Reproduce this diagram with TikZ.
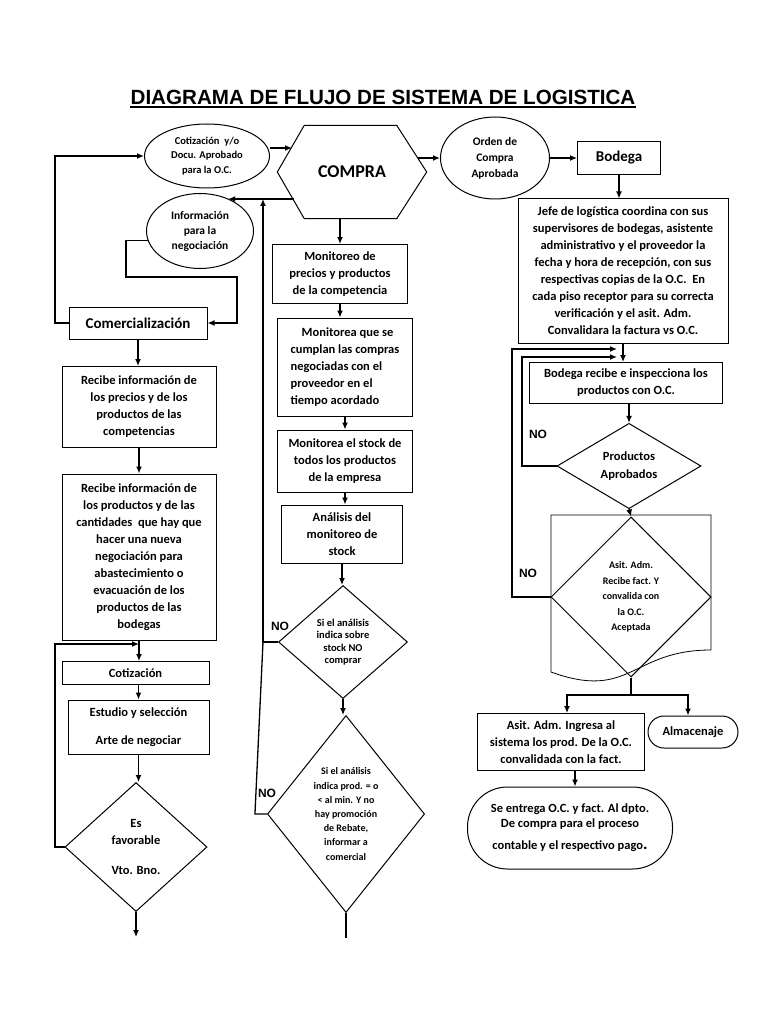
\documentclass[tikz,border=0pt]{standalone}
\usepackage{fontspec}
\setmainfont{Carlito}
\newfontfamily\arialfont{Liberation Sans}
\usetikzlibrary{shapes,arrows.meta,positioning}
\tikzset{
  box/.style = {draw, line width=1pt, rectangle, inner sep=0pt, align=center, font=\bfseries\fontsize{12.5}{17}\selectfont},
  ell/.style = {draw, line width=1pt, ellipse, inner sep=0pt, align=center},
  dec/.style = {draw, line width=1pt, diamond, inner sep=0pt, align=center, font=\bfseries\fontsize{12.5}{17}\selectfont},
  term/.style = {draw, line width=1pt, rectangle, inner sep=0pt, align=center, font=\bfseries\fontsize{12.5}{17}\selectfont},
  lbl/.style = {inner sep=0pt, font=\arialfont\bfseries\fontsize{12}{14}\selectfont},
  arrow/.style = {line width=1.3pt, -{Latex[length=7pt,width=6pt]}},
  link/.style = {line width=1.3pt}
}
\begin{document}
\begin{tikzpicture}[x=1pt, y=-1pt]
\useasboundingbox (0,0) rectangle (768,1024);
% title
\node[inner sep=0pt, font=\arialfont\bfseries\fontsize{20.6}{24}\selectfont] (title) at (383,97) {DIAGRAMA DE FLUJO DE SISTEMA DE LOGISTICA};
\draw[line width=1.5pt] ([yshift=-2.5pt]title.south west) -- ([yshift=-2.5pt]title.south east);

% left column
\node[ell, minimum width=125pt, minimum height=64pt, font=\bfseries\fontsize{10.5}{14.5}\selectfont] (cot) at (207,156) {Cotización~ y/o\\Docu. Aprobado\\para la O.C.};
\node[ell, minimum width=107pt, minimum height=75pt, font=\bfseries\fontsize{11.5}{15}\selectfont] (info) at (200,231) {Información\\para la\\negociación};
\node[box, minimum width=138pt, minimum height=32pt, font=\bfseries\fontsize{15}{17}\selectfont] (com) at (138,323) {Comercialización};
\node[box, minimum width=154pt, minimum height=81pt] (rec1) at (139,407) {Recibe información de\\los precios y de los\\productos de las\\competencias};
\node[box, minimum width=154pt, minimum height=166pt] (rec2) at (139,557) {Recibe información de\\los productos y de las\\cantidades~ que hay que\\hacer una nueva\\negociación para\\abastecimiento o\\evacuación de los\\productos de las\\bodegas};
\node[box, minimum width=147pt, minimum height=23pt] (cotz) at (135.5,673) {Cotización};
\node[box, minimum width=141pt, minimum height=54pt] (est) at (138.5,727) {Estudio y selección\\[11pt]Arte de negociar};
\node[dec, minimum width=142pt, minimum height=129pt] (fav) at (136,847) {Es\\favorable\\[13pt]Vto. Bno.};
\coordinate (retC) at (55,323);
\coordinate (ia) at (126,277);
\coordinate (ib) at (237,277);
\coordinate (fb) at (55,644);
\coordinate (favout) at (136,937);

% middle column
\node[inner sep=0pt, minimum width=149pt, minimum height=93pt, font=\bfseries\fontsize{18}{20}\selectfont] (compra) at (352,172) {\raisebox{-4pt}{COMPRA}};
\draw[line width=1pt] (compra.west) -- ([xshift=27pt]compra.north west) -- ([xshift=-30pt]compra.north east)
  -- (compra.east) -- ([xshift=-30pt]compra.south east) -- ([xshift=27pt]compra.south west) -- cycle;
\coordinate (cin) at ([xshift=-60pt,yshift=24pt]compra.center);
\coordinate (cback) at ([xshift=-58pt,yshift=-27pt]compra.center);
\coordinate (cout) at ([xshift=66pt,yshift=14pt]compra.center);
\node[box, minimum width=135pt, minimum height=59pt] (mon1) at (340,274) {Monitoreo de\\precios y productos\\de la competencia};
\node[box, minimum width=135pt, minimum height=98pt, align=left] (mon2) at (345,367) {\hspace*{11pt}Monitorea que se\\cumplan las compras\\negociadas con el\\proveedor en el\\tiempo acordado};
\node[box, minimum width=135pt, minimum height=62pt] (mon3) at (345,461) {Monitorea el stock de\\todos los productos\\de la empresa};
\node[box, minimum width=121pt, minimum height=58pt] (ana) at (342,534) {Análisis del\\monitoreo de\\stock};
\node[dec, minimum width=129pt, minimum height=113pt, font=\bfseries\fontsize{10.5}{12.5}\selectfont] (d1) at (343,642) {Si el análisis\\indica sobre\\stock NO\\comprar};
\node[dec, minimum width=154pt, minimum height=197pt, font=\bfseries\fontsize{10}{14.2}\selectfont] (d2) at (346,814) {Si el análisis\\indica prod. = o\\< al min. Y no\\hay promoción\\de Rebate,\\informar a\\comercial};
\node[lbl] (no1) at (280,626) {NO};
\node[lbl] (no2) at (267,793) {NO};
\coordinate (retM) at (263,642);
\coordinate (d2out) at (346,938);

% right column
\node[ell, minimum width=109pt, minimum height=82pt, font=\bfseries\fontsize{11.5}{16}\selectfont] (orden) at (495,158) {Orden de\\Compra\\Aprobada};
\node[box, minimum width=83pt, minimum height=33pt, font=\bfseries\fontsize{15}{17}\selectfont] (bod) at (619,158) {Bodega};
\node[box, minimum width=210pt, minimum height=144pt] (jefe) at (623,271) {Jefe de logística coordina con sus\\supervisores de bodegas, asistente\\administrativo y el proveedor la\\fecha y hora de recepción, con sus\\respectivas copias de la O.C.~ En\\cada piso receptor para su correcta\\verificación y el asit. Adm.\\Convalidara la factura vs O.C.};
\node[box, minimum width=193pt, minimum height=41pt] (rec) at (626,383) {Bodega recibe e inspecciona los\\productos con O.C.};
\node[dec, minimum width=144pt, minimum height=77pt, font=\bfseries\fontsize{12.5}{18}\selectfont] (prod) at (629,466) {Productos\\Aprobados};
\draw[line width=0.8pt] (551,515) -- (711,515) -- (711,650) .. controls (631,650) and (631,701) .. (551,672) -- cycle;
\node[dec, minimum width=160pt, minimum height=160pt, font=\bfseries\fontsize{10}{15.5}\selectfont] (acep) at (631,597) {Asit. Adm.\\Recibe fact. Y\\convalida con\\la O.C.\\Aceptada};
\node[lbl] (no3) at (538,434) {NO};
\node[lbl] (no4) at (528,573) {NO};
\node[box, minimum width=167pt, minimum height=57pt] (asit) at (561,742) {Asit. Adm. Ingresa al\\sistema los prod. De la O.C.\\convalidada con la fact.};
\node[term, rounded corners=16pt, minimum width=90pt, minimum height=32pt] (alm) at (693,732) {Almacenaje};
\node[term, rounded corners=40pt, minimum width=205pt, minimum height=82pt, font=\bfseries\fontsize{12.5}{15}\selectfont] (fin) at (570,828) {Se entrega O.C. y fact. Al dpto.\\De compra para el proceso\\[7pt]contable y el respectivo pago{\fontsize{17}{15}\selectfont.}};
\coordinate (fbA) at (512,349);
\coordinate (fbB) at (522,357);
\coordinate (split) at (631,695);

% connectors, left
\draw[arrow] (cot.east |- cin) -- (cin);
\draw[arrow] (cback) -- (cback -| info.49);
\draw[arrow] (com.west) -- (retC) |- (cot.west);
\draw[arrow] (info.190) -| (ia) -- (ib) |- (com.east);
\draw[arrow] (com.south) -- (com.south |- rec1.north);
\draw[arrow] (rec1.south) -- (rec1.south |- rec2.north);
\draw[arrow] (rec2.south) -- (rec2.south |- cotz.north);
\draw[arrow] (cotz.south -| est.north) -- (est.north);
\draw[arrow] (est.south) -- (est.south |- fav.north);
\draw[arrow] (fav.west) -| (fb) -- (fb -| rec2.south);
\draw[arrow] (fav.south) -- (favout);

% connectors, middle
\draw[arrow] (compra.south -| mon1.north) -- (mon1.north);
\draw[arrow] (mon1.south) -- (mon1.south |- mon2.north);
\draw[arrow] (mon3.north |- mon2.south) -- (mon3.north);
\draw[arrow] (mon3.south) -- (mon3.south |- ana.north);
\draw[arrow] (ana.south) -- (ana.south |- d1.north);
\draw[arrow] (d1.south) -- (d1.south |- d2.north);
\draw[arrow] (d1.west) -| (retM |- cback);
\draw[link] (d2.west) -- ++(-12,0) -- (retM);
\draw[link] (d2.south) -- (d2out);

% connectors, right
\draw[arrow] (cout) -- (cout -| orden.west);
\draw[arrow] (orden.east) -- (bod.west);
\draw[arrow] (bod.south) -- (bod.south |- jefe.north);
\draw[arrow] (jefe.south) -- (jefe.south |- rec.north);
\draw[arrow] (acep.west) -| (fbA) -- ([xshift=-6pt]jefe.south |- fbA);
\draw[arrow] (prod.west) -| (fbB) -- ([xshift=-6pt]jefe.south |- fbB);
\draw[arrow] (prod.north |- rec.south) -- (prod.north);
\draw[arrow] (prod.south) -- (acep.north);
\draw[link] (acep.south) -- (split);
\draw[arrow] (split) -| ([xshift=6pt]asit.north);
\draw[arrow] (split) -| ([xshift=-5pt]alm.north);
\draw[arrow] ([xshift=14pt]asit.south) -- ([xshift=14pt]asit.south |- fin.north);
\end{tikzpicture}
\end{document}
